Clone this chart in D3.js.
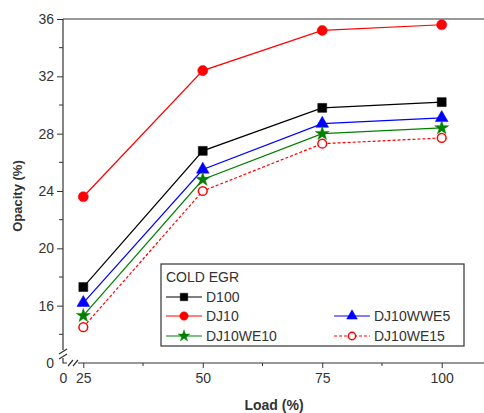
<!DOCTYPE html>
<html lang="en">
	<head>
		<meta charset="utf-8">
		<title>Opacity vs Load - Cold EGR</title>
		<script src="https://cdn.jsdelivr.net/npm/d3@7"></script>
		<style>
			body { margin: 0; background: #fff; }
			text { font-family: "Liberation Sans", Arial, sans-serif; }
		</style>
	</head>
	<body>
	<script type="text/javascript">

var w = 484;
var h = 413;

// data
var loads = [25, 50, 75, 100];
var d100     = [17.3, 26.8, 29.8, 30.2];
var dj10     = [23.6, 32.4, 35.2, 35.6];
var dj10wwe5 = [16.2, 25.5, 28.7, 29.1];
var dj10we10 = [15.3, 24.8, 28.0, 28.4];
var dj10we15 = [14.5, 24.0, 27.3, 27.7];
var yTicks = [12, 16, 20, 24, 28, 32, 36];
var yMinor = [14, 18, 22, 26, 30, 34];
var xTicks = [25, 50, 75, 100];
var xMinor = [37.5, 62.5, 87.5];

var series = [
	{name: "D100", values: d100, color: "#000", symbol: d3.symbolSquare, size: 80, fill: true, dash: null},
	{name: "DJ10", values: dj10, color: "#ff0000", symbol: d3.symbolCircle, size: 80, fill: true, dash: null},
	{name: "DJ10WWE5", values: dj10wwe5, color: "#0000ff", symbol: d3.symbolTriangle, size: 70, fill: true, dash: null},
	{name: "DJ10WE10", values: dj10we10, color: "#008000", symbol: d3.symbolStar, size: 60, fill: true, dash: null},
	{name: "DJ10WE15", values: dj10we15, color: "#ff0000", symbol: d3.symbolCircle, size: 60, fill: false, dash: "3,2"}
];

var padLeft = 63, padTop = 19, axisY = 363;

var xScale = d3.scaleLinear().domain([20.75, 108.85]).range([padLeft, w]);
var yScale = d3.scaleLinear().domain([12, 36]).range([axisY, padTop]);

var svg = d3.select("body").append("svg")
	.attr("width", w)
	.attr("height", h);

// top frame line
svg.append("line")
	.attr("x1", padLeft).attr("x2", w)
	.attr("y1", padTop).attr("y2", padTop)
	.attr("stroke", "#333").attr("stroke-width", 1);

// Y axis
var yAxis = d3.axisLeft(yScale)
	.tickValues(yTicks)
	.tickSize(6)
	.tickSizeOuter(0)
	.tickFormat(function(d) { return d == 12 ? "0" : d; });
var gy = svg.append("g")
	.attr("transform", "translate(" + padLeft + ",0)")
	.call(yAxis);
gy.select(".domain").remove();
gy.selectAll(".tick").filter(function(d) { return d == 12; }).select("line").remove();
gy.selectAll("text").attr("font-size", 14).attr("fill", "#333").attr("font-family", "Liberation Sans, Arial, sans-serif");
gy.selectAll(".tick line").attr("stroke", "#333");

svg.append("g").selectAll("line").data(yMinor).enter().append("line")
	.attr("x1", padLeft - 4).attr("x2", padLeft)
	.attr("y1", function(d) { return yScale(d); })
	.attr("y2", function(d) { return yScale(d); })
	.attr("stroke", "#333");

// X axis
var xAxis = d3.axisBottom(xScale)
	.tickValues([20.75].concat(xTicks))
	.tickSize(5)
	.tickSizeOuter(0)
	.tickFormat(function(d) { return d < 25 ? "0" : d; });
var gx = svg.append("g")
	.attr("transform", "translate(0," + axisY + ")")
	.call(xAxis);
gx.select(".domain").remove();
gx.selectAll(".tick").filter(function(d) { return d < 25; }).select("line").remove();
gx.selectAll("text").attr("font-size", 14).attr("fill", "#333").attr("dy", "0.85em").attr("font-family", "Liberation Sans, Arial, sans-serif");
gx.selectAll(".tick line").attr("stroke", "#333");

svg.append("g").selectAll("line").data(xMinor).enter().append("line")
	.attr("x1", function(d) { return xScale(d); })
	.attr("x2", function(d) { return xScale(d); })
	.attr("y1", axisY).attr("y2", axisY + 3)
	.attr("stroke", "#333");

// axis lines with breaks
var axisPath = [
	[[padLeft, padTop], [padLeft, 350]],
	[[padLeft, 358], [padLeft, axisY], [67, axisY]],
	[[78, axisY], [w, axisY]],
	[[59, 354], [67, 349]],
	[[59, 359], [67, 354]],
	[[68, 366], [73, 360]],
	[[73, 366], [78, 360]]
];
svg.append("g").selectAll("path").data(axisPath).enter().append("path")
	.attr("d", d3.line())
	.attr("fill", "none")
	.attr("stroke", "#333")
	.attr("stroke-width", 1.2);

// axis titles
svg.append("text")
	.attr("transform", "translate(22," + 196 + ") rotate(-90)")
	.attr("text-anchor", "middle")
	.attr("font-size", 13)
	.attr("font-weight", "bold")
	.attr("fill", "#333")
	.text("Opacity (%)");

svg.append("text")
	.attr("x", 274).attr("y", 410)
	.attr("text-anchor", "middle")
	.attr("font-size", 14)
	.attr("font-weight", "bold")
	.attr("fill", "#333")
	.text("Load (%)");

// lines and markers
var line = d3.line()
	.x(function(d, i) { return xScale(loads[i]); })
	.y(function(d) { return yScale(d); });

series.forEach(function(s) {
	svg.append("path")
		.datum(s.values)
		.attr("d", line)
		.attr("fill", "none")
		.attr("stroke", s.color)
		.attr("stroke-width", 1.2)
		.attr("stroke-dasharray", s.dash);

	svg.append("g").selectAll("path")
		.data(s.values)
		.enter().append("path")
		.attr("d", d3.symbol().type(s.symbol).size(s.size))
		.attr("transform", function(d, i) { return "translate(" + xScale(loads[i]) + "," + yScale(d) + ")"; })
		.attr("fill", s.fill ? s.color : "#fff")
		.attr("stroke", s.color)
		.attr("stroke-width", s.fill ? 0.5 : 1.5);
});

// legend
var legend = svg.append("g");
legend.append("rect")
	.attr("x", 161).attr("y", 264)
	.attr("width", 303).attr("height", 82)
	.attr("fill", "#fff")
	.attr("stroke", "#333")
	.attr("stroke-width", 1.2);

legend.append("text")
	.attr("x", 166).attr("y", 282)
	.attr("font-size", 14)
	.attr("fill", "#333")
	.text("COLD EGR");

var legendPos = [[166, 297], [166, 316], [334, 316], [166, 336], [334, 336]];

series.forEach(function(s, i) {
	var p = legendPos[i];
	var g = legend.append("g").attr("transform", "translate(" + p[0] + "," + p[1] + ")");
	g.append("line")
		.attr("x1", 0).attr("x2", 36)
		.attr("stroke", s.color)
		.attr("stroke-width", 1.2)
		.attr("stroke-dasharray", s.dash);
	g.append("path")
		.attr("d", d3.symbol().type(s.symbol).size(s.size * 0.7))
		.attr("transform", "translate(18,0)")
		.attr("fill", s.fill ? s.color : "#fff")
		.attr("stroke", s.color)
		.attr("stroke-width", s.fill ? 0.5 : 1.5);
	g.append("text")
		.attr("x", 40).attr("y", 5)
		.attr("font-size", 14)
		.attr("fill", "#333")
		.text(s.name);
});

	</script>
	</body>
</html>
